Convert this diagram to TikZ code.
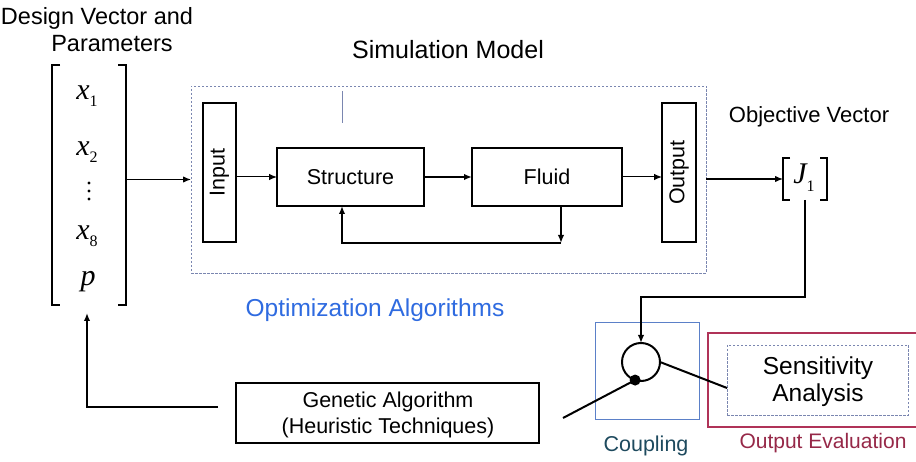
\documentclass[tikz,border=0pt]{standalone}
\usepackage{fontspec}
\setmainfont{Liberation Sans}
\newfontfamily\tms{Liberation Serif}
\usetikzlibrary{arrows.meta,calc}
\definecolor{dashc}{HTML}{7A86B0}
\definecolor{optblue}{HTML}{2F6BE0}
\definecolor{cplblue}{HTML}{5B80C8}
\definecolor{cpltxt}{HTML}{1E4A5E}
\definecolor{evalred}{HTML}{B03358}
\definecolor{evaltxt}{HTML}{962848}
\begin{document}
\begin{tikzpicture}[x=1pt,y=-1pt,
  every node/.style={inner sep=0pt, outer sep=0pt},
  tA/.style={font=\fontsize{23.5}{26}\selectfont},
  tB/.style={font=\fontsize{24.5}{27}\selectfont},
  tC/.style={font=\fontsize{21.5}{26}\selectfont},
  mth/.style={font=\tms\fontsize{30}{30}\selectfont\itshape},
  blk/.style={draw=black, line width=1.4pt, fill=white},
  dsh/.style={draw=dashc, line width=0.9pt, dash pattern=on 2.5pt off 1.5pt},
  arr/.style={-{Latex[length=8pt,width=6.5pt]}, line width=1.3pt},
  tharr/.style={-{Latex[length=8pt,width=6.5pt]}, line width=2.2pt},
  ln/.style={line width=2pt},
  brk/.style={line width=2.2pt},
]
\useasboundingbox (0,0) rectangle (916,462);

% titles
\node[tA] (dvt1) at (97,18) {Design Vector and};
\node[tA] (dvt2) at (112,44) {Parameters};
\node[tB, font=\fontsize{25}{27}\selectfont] (simt) at (448,50) {Simulation Model};
\node[font=\fontsize{22}{26}\selectfont] (objt) at (809,117) {Objective Vector};
\node[tB, text=optblue] (optt) at (375,310) {Optimization Algorithms};

% simulation model
\node[dsh, minimum width=515, minimum height=187] (sim) at (448.5,179.5) {};
\draw[dashc, line width=1pt] (342,91) -- (342,123);
\node[blk, minimum width=33, minimum height=139] (in) at (219.5,172.5) {};
\node[tC, rotate=90] (intxt) at (in.center) {Input};
\node[blk, minimum width=34, minimum height=139] (out) at (679,172.5) {};
\node[tC, rotate=90] (outtxt) at (out.center) {Output};
\node[blk, tC, minimum width=147, minimum height=58] (str) at (350.5,177) {Structure};
\node[blk, tC, minimum width=150, minimum height=58] (fl) at (547,177) {Fluid};

\draw[arr, line width=1pt] (in.east |- str.west) -- (str.west);
\draw[tharr] (str.east) -- (fl.west);
\draw[arr, line width=1pt] (fl.east) -- (out.west |- fl.east);
\coordinate (fb1) at (561,243);
\coordinate (fb2) at (342,243);
\draw[tharr] (fl.south -| fb1) -- (fb1);
\draw[tharr] (fb1) -- (fb2) -- (str.south -| fb2);

% design vector
\node[minimum width=74, minimum height=240] (dv) at (89,185) {};
\draw[brk] ([xshift=8pt]dv.north west) -- (dv.north west) -- (dv.south west) -- ([xshift=8pt]dv.south west);
\draw[brk] ([xshift=-8pt]dv.north east) -- (dv.north east) -- (dv.south east) -- ([xshift=-8pt]dv.south east);
\node[mth] (x1) at (87,96) {x\raisebox{-7pt}{\upshape\fontsize{16}{16}\selectfont 1}};
\node[mth] (x2) at (87,152) {x\raisebox{-7pt}{\upshape\fontsize{16}{16}\selectfont 2}};
\node[circle, fill, minimum size=3.4] (d1) at (89,183) {};
\node[circle, fill, minimum size=3.4] (d2) at (89,191) {};
\node[circle, fill, minimum size=3.4] (d3) at (89,199) {};
\node[mth] (x8) at (87,236) {x\raisebox{-7pt}{\upshape\fontsize{16}{16}\selectfont 8}};
\node[mth] (pp) at (88,282) {p};
\draw[arr] (dv.east |- sim.west) -- (sim.west);

% objective vector
\node[minimum width=44, minimum height=42] (J) at (805,179) {};
\draw[brk] ([xshift=7pt]J.north west) -- (J.north west) -- (J.south west) -- ([xshift=7pt]J.south west);
\draw[brk] ([xshift=-7pt]J.north east) -- (J.north east) -- (J.south east) -- ([xshift=-7pt]J.south east);
\node[mth] (Jt) at (804,178) {J\raisebox{-8pt}{\upshape\fontsize{16}{16}\selectfont 1}};
\draw[arr] (sim.east |- J.west) -- (J.west);

% coupling and output evaluation
\node[draw=cplblue, line width=1pt, minimum width=104, minimum height=96] (cbox) at (647,371) {};
\node[draw=evalred, line width=1.2pt, minimum width=220, minimum height=94] (evbox) at (818,380) {};
\node[dsh, minimum width=181, minimum height=70] (sa) at (817.5,380) {};
\node[tB, align=center, font=\fontsize{24.5}{27}\selectfont] (satxt) at (818,382) {Sensitivity\\Analysis};
\node[circle, draw, line width=2pt, minimum size=38] (cpl) at (641,362) {};
\node[circle, fill, minimum size=11] (dot) at (cpl.252) {};
\node[tC, text=cpltxt] (cplt) at (646,446) {Coupling};
\node[tC, font=\fontsize{21}{26}\selectfont, text=evaltxt] (evt) at (823,443) {Output Evaluation};

\draw[tharr, line width=2pt] (J.south) -- ++(0,97) -| (cpl.north);
\draw[ln] (cpl.east) -- ([yshift=-8pt]sa.west);
\coordinate (lfree) at (563,418);
\draw[ln] (dot.center) -- (lfree);

% genetic algorithm
\node[blk, minimum width=303, minimum height=60] (ga) at (387.5,413) {};
\node[tC, align=center, font=\fontsize{21.5}{26.5}\selectfont] (gatxt) at (388,415) {Genetic Algorithm\\(Heuristic Techniques)};
\coordinate (gal) at (218,407);
\coordinate (dvin) at ($(dv.south)+(-2,8)$);
\draw[tharr, line width=2pt] (gal) -| (dvin);
\end{tikzpicture}
\end{document}
